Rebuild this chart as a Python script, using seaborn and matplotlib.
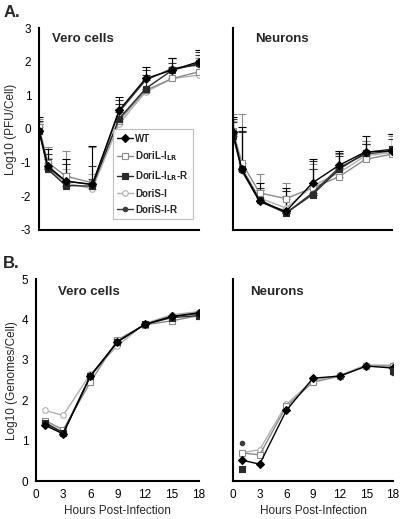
import matplotlib
matplotlib.use('Agg')
import matplotlib.pyplot as plt
import seaborn as sns
import numpy as np
import pandas as pd

# ---- data ----
names = ['WT', r'DoriL-I$_{\mathbf{LR}}$', r'DoriL-I$_{\mathbf{LR}}$-R', 'DoriS-I', 'DoriS-I-R']
keys = ['wt', 'dl', 'dlr', 'ds', 'dsr']

hours_pfu = [0, 1, 3, 6, 9, 12, 15, 18]
hours_gen = [1, 3, 6, 9, 12, 15, 18]

vero_pfu = {
    'wt':  [-0.05, -1.10, -1.55, -1.65, 0.55, 1.50, 1.75, 2.00],
    'dl':  [0.05, -1.00, -1.40, -1.60, 0.25, 1.15, 1.50, 1.70],
    'dlr': [-0.05, -1.20, -1.68, -1.70, 0.30, 1.20, 1.75, 1.95],
    'ds':  [0.05, -1.20, -1.60, -1.78, 0.15, 1.10, 1.50, 1.60],
    'dsr': [-0.02, -1.15, -1.55, -1.65, 0.50, 1.45, 1.80, 1.90],
}
vero_pfu_err = {
    'wt':  [0.40, 0.50, 0.65, 1.15, 0.40, 0.35, 0.35, 0.35],
    'dl':  [0.25, 0.45, 0.75, 1.05, 0.35, 0.35, 0.35, 0.40],
    'dlr': [0.30, 0.45, 0.63, 0.60, 0.45, 0.40, 0.35, 0.35],
    'ds':  [0.15, 0.35, 0.40, 0.43, 0.35, 0.40, 0.35, 0.50],
    'dsr': [0.17, 0.25, 0.25, 0.15, 0.35, 0.30, 0.15, 0.30],
}
neur_pfu = {
    'wt':  [-0.10, -1.20, -2.15, -2.45, -1.60, -1.08, -0.68, -0.65],
    'dl':  [-0.05, -1.00, -1.90, -2.07, -1.75, -1.42, -0.90, -0.75],
    'dlr': [-0.20, -1.20, -2.10, -2.50, -1.95, -1.20, -0.70, -0.60],
    'ds':  [-0.10, -1.15, -2.05, -2.35, -1.70, -1.30, -0.80, -0.70],
    'dsr': [-0.15, -1.25, -2.15, -2.50, -1.90, -1.15, -0.75, -0.65],
}
neur_pfu_err = {
    'wt':  [0.45, 1.25, 0.55, 0.70, 0.70, 0.43, 0.48, 0.50],
    'dl':  [0.50, 1.45, 0.55, 0.47, 0.70, 0.67, 0.55, 0.55],
    'dlr': [0.50, 1.15, 0.35, 0.65, 1.00, 0.50, 0.25, 0.45],
    'ds':  [0.35, 1.10, 0.30, 0.50, 0.50, 0.55, 0.45, 0.40],
    'dsr': [0.35, 1.15, 0.35, 0.50, 0.70, 0.35, 0.30, 0.35],
}
vero_gen = {
    'wt':  [1.38, 1.17, 2.60, 3.45, 3.88, 4.08, 4.17],
    'dl':  [1.50, 1.27, 2.45, 3.50, 3.87, 3.97, 4.10],
    'dlr': [1.45, 1.20, 2.60, 3.45, 3.88, 4.05, 4.10],
    'ds':  [1.75, 1.63, 2.65, 3.35, 3.90, 4.12, 4.20],
    'dsr': [1.42, 1.20, 2.60, 3.45, 3.88, 4.07, 4.15],
}
nan = np.nan
neur_gen = {
    'wt':  [0.52, 0.42, 1.75, 2.55, 2.60, 2.85, 2.80],
    'dl':  [0.70, 0.65, 1.85, 2.45, 2.60, 2.85, 2.85],
    'dlr': [0.30, nan, nan, nan, nan, nan, 2.72],
    'ds':  [0.70, 0.78, 1.90, 2.50, 2.62, 2.88, 2.87],
    'dsr': [0.95, nan, nan, nan, nan, nan, 2.68],
}

# ---- styles ----
colors = {'wt': '#000000', 'dl': '#8a8a8a', 'dlr': '#2a2a2a', 'ds': '#b0b0b0', 'dsr': '#3a3a3a'}
markers = {'wt': 'D', 'dl': 's', 'dlr': 's', 'ds': 'o', 'dsr': 'o'}
msize = {'wt': 3.6, 'dl': 4.2, 'dlr': 4.2, 'ds': 4.0, 'dsr': 3.2}
mface = {'wt': '#000000', 'dl': 'white', 'dlr': '#2a2a2a', 'ds': 'white', 'dsr': '#3a3a3a'}
order = ['ds', 'dl', 'dsr', 'dlr', 'wt']

sns.set_style('white')
plt.rcParams['font.family'] = ['Liberation Sans', 'DejaVu Sans']
plt.rcParams['axes.unicode_minus'] = False


def draw(ax, hours, vals, errs=None):
    for k in order:
        df = pd.DataFrame({'h': hours, 'v': vals[k]})
        if errs is not None:
            ax.errorbar(hours, vals[k], yerr=[np.zeros(len(hours)), errs[k]],
                        fmt='none', ecolor=colors[k], elinewidth=0.8,
                        capsize=3.2, capthick=0.8, zorder=1)
        if df['v'].isna().any():
            sns.scatterplot(data=df.dropna(), x='h', y='v', ax=ax, marker=markers[k],
                            s=msize[k] ** 2, color=mface[k],
                            edgecolor=colors[k], linewidth=0.8, zorder=3, legend=False)
        else:
            sns.lineplot(data=df, x='h', y='v', ax=ax, color=colors[k], lw=1.0,
                         marker=markers[k], markersize=msize[k],
                         markerfacecolor=mface[k], markeredgecolor=colors[k],
                         markeredgewidth=0.8, label=names[keys.index(k)], zorder=2)


def style(ax, ylim, yticks, show_y, show_x):
    ax.set_xlim(0, 18)
    ax.set_ylim(*ylim)
    ax.set_xticks(range(0, 19, 3))
    ax.set_yticks(yticks)
    for s in ['top', 'right']:
        ax.spines[s].set_visible(False)
    for s in ['left', 'bottom']:
        ax.spines[s].set_linewidth(1.5)
        ax.spines[s].set_color('black')
    ax.tick_params(axis='both', direction='out', length=3.5, width=1.3,
                   labelsize=8.5, pad=2, colors='black')
    if not show_y:
        ax.set_yticklabels([])
    if not show_x:
        ax.set_xticklabels([])
    ax.set_xlabel('')
    ax.set_ylabel('')
    if ax.get_legend() is not None:
        ax.get_legend().remove()


fig = plt.figure(figsize=(4.0, 5.19), dpi=100)
axA1 = fig.add_axes([0.0975, 0.557, 0.40, 0.389])
axA2 = fig.add_axes([0.5825, 0.557, 0.3975, 0.389])
axB1 = fig.add_axes([0.0900, 0.073, 0.4075, 0.389])
axB2 = fig.add_axes([0.5825, 0.073, 0.4000, 0.389])

draw(axA1, hours_pfu, vero_pfu, vero_pfu_err)
draw(axA2, hours_pfu, neur_pfu, neur_pfu_err)
draw(axB1, hours_gen, vero_gen)
draw(axB2, hours_gen, neur_gen)

handles, labels = axA1.get_legend_handles_labels()
lookup = dict(zip(labels, handles))

style(axA1, (-3, 3), range(-3, 4), True, False)
style(axA2, (-3, 3), range(-3, 4), False, False)
style(axB1, (0, 5), range(0, 6), True, True)
style(axB2, (0, 5), range(0, 6), False, True)

leg = axA1.legend([lookup[n] for n in names], names, loc='lower right',
                  bbox_to_anchor=(0.995, 0.03), frameon=True, fancybox=False,
                  prop={'size': 7, 'weight': 'bold'}, handlelength=1.6,
                  handletextpad=0.3, labelspacing=0.6, borderpad=0.45)
leg.get_frame().set_edgecolor('#b0b0b0')
leg.get_frame().set_linewidth(0.8)

titles = [(axA1, 'Vero cells', 0.08, 0.945), (axA2, 'Neurons', 0.14, 0.945),
          (axB1, 'Vero cells', 0.135, 0.935), (axB2, 'Neurons', 0.105, 0.935)]
for ax, t, tx, ty in titles:
    ax.text(tx, ty, t, transform=ax.transAxes, fontsize=9.5, fontweight='bold', va='center')

axA1.set_ylabel('Log10 (PFU/Cell)', fontsize=8.5, labelpad=3)
axB1.set_ylabel('Log10 (Genomes/Cell)', fontsize=8.5, labelpad=3)
axB1.set_xlabel('Hours Post-Infection', fontsize=8.5, labelpad=3)
axB2.set_xlabel('Hours Post-Infection', fontsize=8.5, labelpad=3)

fig.text(0.008, 0.975, 'A.', fontsize=12, fontweight='bold', va='center')
fig.text(0.008, 0.492, 'B.', fontsize=12, fontweight='bold', va='center')

fig.savefig('out.png', dpi=100)
